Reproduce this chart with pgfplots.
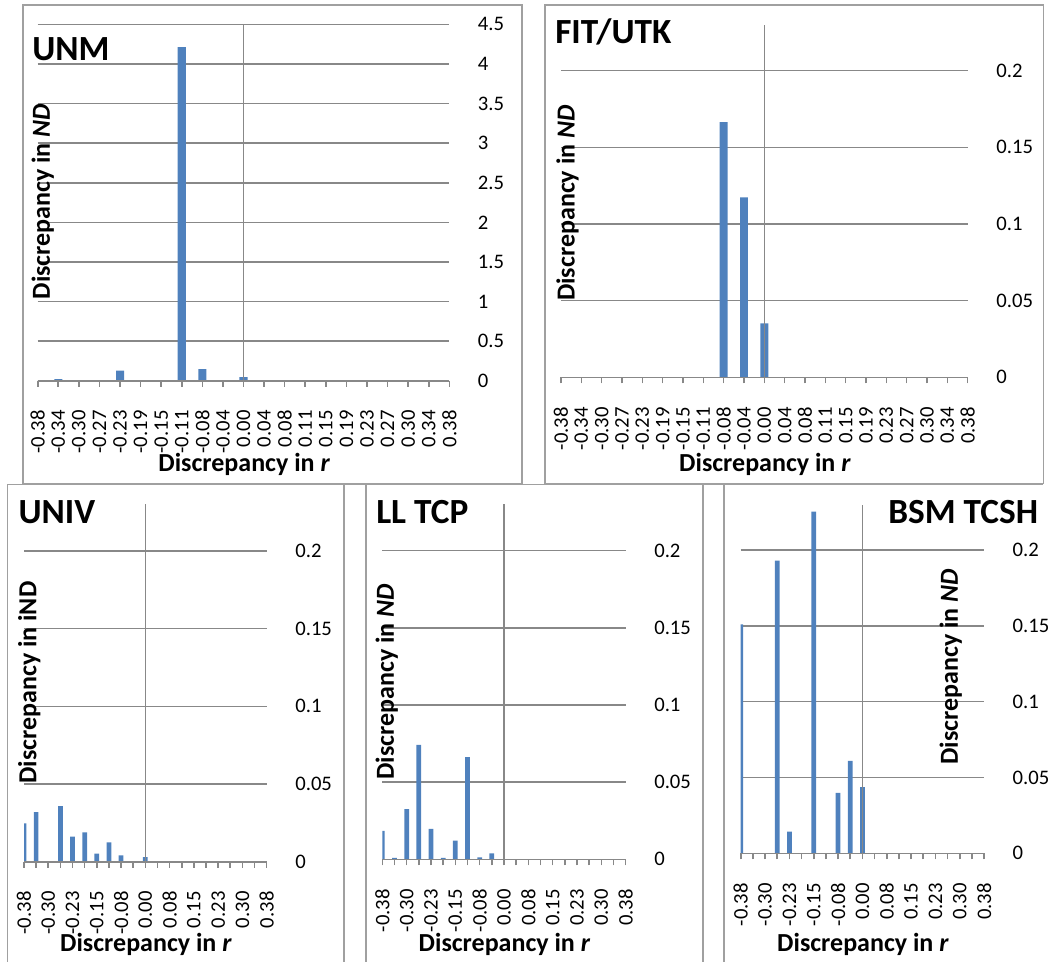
\documentclass[border=0pt]{standalone}
\usepackage{pgfplots}
\pgfplotsset{compat=1.18}
\usepackage{fontspec}
\setmainfont{Carlito}
\definecolor{barblue}{HTML}{4F81BD}
\definecolor{axisgray}{HTML}{888888}
\definecolor{framegray}{HTML}{A0A0A0}
\newcommand{\tickfont}{\fontsize{15.5}{18}\selectfont}
\newcommand{\labfont}{\fontsize{19.5}{23}\selectfont\bfseries}
\newcommand{\titfont}{\fontsize{26.5}{30}\selectfont\bfseries}
\tikzset{axline/.style={draw=axisgray, line width=1.2pt}}
\pgfplotsset{
  panel/.style={
    scale only axis,
    anchor=south west,
    xmin=0, xmax=20,
    ymin=0,
    axis line style={draw=none},
    xtick={0,...,20},
    xtick pos=bottom,
    tick align=outside,
    major tick length=4.5pt,
    xtick style={draw=axisgray, line width=1.2pt},
    ytick pos=right,
    ytick style={draw=none},
    yticklabel pos=right,
    ymajorgrids,
    major grid style={draw=axisgray, line width=1.2pt},
    tick label style={font=\tickfont, text=black},
    xticklabel style={rotate=90, anchor=east, inner sep=0pt},
    yticklabel style={anchor=west, inner sep=0pt},
    xticklabel shift=17.6pt,
    yticklabel shift=16.8pt,
  },
  smallticks/.style={
    ymax=0.23,
    ytick={0,0.05,0.1,0.15,0.2},
    yticklabels={0,0.05,0.1,0.15,0.2},
  },
  bars/.style={ybar, fill=barblue, draw=none, bar width=0.39},
}
\begin{document}
\begin{tikzpicture}[x=0.75pt, y=-0.75pt]
\useasboundingbox (0,0) rectangle (1055,961);
% panel frames
\begin{scope}[framegray, line width=1.2pt]
\draw (22.7,5) rectangle (521.7,483.3);
\draw (545,5) rectangle (1043.3,483.3);
\draw (7.3,975) -- (7.3,484.3) -- (1043.3,484.3);
\draw (344,484.3) -- (344,975);
\draw (365.7,975) -- (365.7,484.3);
\draw (702.7,484.3) -- (702.7,975);
\draw (724,975) -- (724,484.3);
\end{scope}

% ---------- UNM ----------
\begin{axis}[panel, at={(37.7*0.75pt,-380.7*0.75pt)},
  width=308.7pt, height=267.3pt,
  ymax=4.5, ytick={0,0.5,1,1.5,2,2.5,3,3.5,4,4.5},
  yticklabels={0,0.5,1,1.5,2,2.5,3,3.5,4,4.5},
  xticklabels={-0.38,-0.34,-0.30,-0.27,-0.23,-0.19,-0.15,-0.11,-0.08,-0.04,0.00,0.04,0.08,0.11,0.15,0.19,0.23,0.27,0.30,0.34,0.38}]
\addplot[bars] coordinates {(1,0.02) (4,0.126) (7,4.213) (8,0.147) (10,0.046)};
\draw[axline] (axis cs:10,0) -- (axis cs:10,4.5);
\draw[axline] (axis cs:0,0) -- (axis cs:20,0);
\end{axis}
\node[anchor=base west, font=\titfont, inner sep=0pt] at (32,60) {UNM};
\node[rotate=90, font=\labfont, inner sep=0pt] at (42.7,201.5) {Discrepancy in \textit{ND}};
\node[anchor=base, font=\labfont, inner sep=0pt] at (244.2,471.5) {Discrepancy in \textit{r}};

% ---------- FIT/UTK ----------
\begin{axis}[panel, smallticks, at={(561*0.75pt,-377.3*0.75pt)},
  width=305pt, height=264.45pt,
  xticklabels={-0.38,-0.34,-0.30,-0.27,-0.23,-0.19,-0.15,-0.11,-0.08,-0.04,0.00,0.04,0.08,0.11,0.15,0.19,0.23,0.27,0.30,0.34,0.38}]
\addplot[bars] coordinates {(8,0.1665) (9,0.1174) (10,0.0352)};
\draw[axline] (axis cs:10,0) -- (axis cs:10,0.23);
\draw[axline] (axis cs:0,0) -- (axis cs:20,0);
\end{axis}
\node[anchor=base west, font=\titfont, inner sep=0pt] at (555,43.3) {FIT/UTK};
\node[rotate=90, font=\labfont, inner sep=0pt] at (567.5,203) {Discrepancy in \textit{ND}};
\node[anchor=base, font=\labfont, inner sep=0pt] at (765,471.7) {Discrepancy in \textit{r}};

% ---------- UNIV ----------
\begin{axis}[panel, smallticks, at={(24*0.75pt,-861.7*0.75pt)},
  width=182pt, height=268pt,
  xticklabels={-0.38,,-0.30,,-0.23,,-0.15,,-0.08,,0.00,,0.08,,0.15,,0.23,,0.30,,0.38}]
\addplot[bars] coordinates {(0,0.0247) (1,0.032) (3,0.0358) (4,0.0161) (5,0.0189) (6,0.0052) (7,0.0124) (8,0.0041) (10,0.003)};
\draw[axline] (axis cs:10,0) -- (axis cs:10,0.23);
\draw[axline] (axis cs:0,0) -- (axis cs:20,0);
\end{axis}
\node[anchor=base west, font=\titfont, inner sep=0pt] at (18.3,523.3) {UNIV};
\node[rotate=90, font=\labfont, inner sep=0pt] at (29.2,682.5) {Discrepancy in iND};
\node[anchor=base, font=\labfont, inner sep=0pt] at (146,951.7) {Discrepancy in \textit{r}};

% ---------- LL TCP ----------
\begin{axis}[panel, smallticks, at={(382.3*0.75pt,-859.3*0.75pt)},
  width=182.5pt, height=266.2pt,
  xticklabels={-0.38,,-0.30,,-0.23,,-0.15,,-0.08,,0.00,,0.08,,0.15,,0.23,,0.30,,0.38}]
\addplot[bars] coordinates {(0,0.0184) (1,0.001) (2,0.0326) (3,0.0741) (4,0.0197) (5,0.001) (6,0.0121) (7,0.0663) (8,0.0013) (9,0.0039)};
\draw[axline] (axis cs:10,0) -- (axis cs:10,0.23);
\draw[axline] (axis cs:0,0) -- (axis cs:20,0);
\end{axis}
\node[anchor=base west, font=\titfont, inner sep=0pt] at (376,523.3) {LL TCP};
\node[rotate=90, font=\labfont, inner sep=0pt] at (386.8,681.7) {Discrepancy in \textit{ND}};
\node[anchor=base, font=\labfont, inner sep=0pt] at (504.5,951.7) {Discrepancy in \textit{r}};

% ---------- BSM TCSH ----------
\begin{axis}[panel, smallticks, at={(740.7*0.75pt,-853.3*0.75pt)},
  width=182.5pt, height=261.6pt,
  xticklabels={-0.38,,-0.30,,-0.23,,-0.15,,-0.08,,0.00,,0.08,,0.15,,0.23,,0.30,,0.38}]
\addplot[bars] coordinates {(0,0.151) (3,0.193) (4,0.0143) (6,0.2253) (8,0.0398) (9,0.0609) (10,0.0437)};
\draw[axline] (axis cs:10,0) -- (axis cs:10,0.23);
\draw[axline] (axis cs:0,0) -- (axis cs:20,0);
\end{axis}
\node[anchor=base east, font=\titfont, inner sep=0pt] at (1038.3,523.3) {BSM TCSH};
\node[rotate=90, font=\labfont, inner sep=0pt] at (950.8,666.7) {Discrepancy in \textit{ND}};
\node[anchor=base, font=\labfont, inner sep=0pt] at (863,951.7) {Discrepancy in \textit{r}};
\end{tikzpicture}
\end{document}
